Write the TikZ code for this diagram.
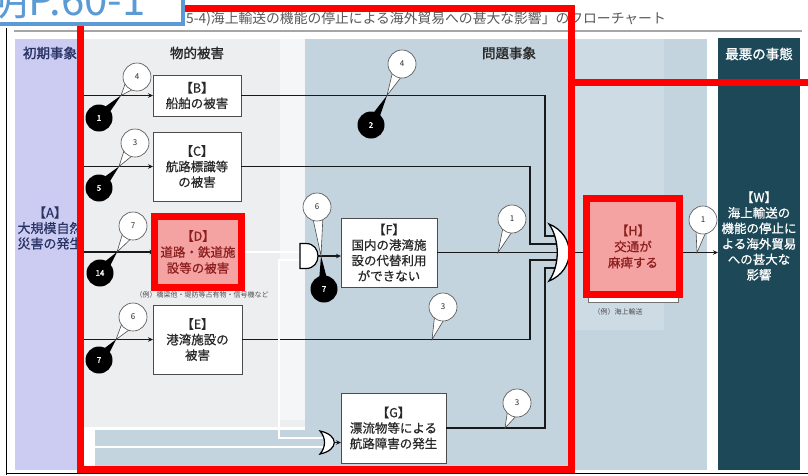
\documentclass[tikz,border=0pt]{standalone}
\usepackage{fontspec}
\setmainfont{Noto Sans CJK JP}
\newfontfamily\jpb[FakeBold=1.5]{Noto Sans CJK JP}
\newfontfamily\jpm[FakeBold=0.6]{Noto Sans CJK JP}
\usetikzlibrary{arrows.meta,calc}
\definecolor{lav}{RGB}{204,204,242}
\definecolor{lightp}{RGB}{236,238,240}
\definecolor{lightw}{RGB}{245,246,247}
\definecolor{probbg}{RGB}{196,212,223}
\definecolor{probl}{RGB}{205,219,229}
\definecolor{tealc}{RGB}{28,72,88}
\definecolor{hlred}{RGB}{255,0,0}
\definecolor{pinkf}{RGB}{245,162,162}
\definecolor{dred}{RGB}{140,30,30}
\definecolor{navy}{RGB}{40,50,100}
\definecolor{bluebx}{RGB}{91,155,213}
\definecolor{txt}{RGB}{40,40,40}
\newcommand\wcallout[4]{%
  \coordinate (#1c) at #2;
  \draw[wtail] ($(#1c)!13pt!22:#3$) -- #3 -- ($(#1c)!13pt!-22:#3$);
  \node[wbub] (#1) at (#1c) {#4};}
\newcommand\bcallout[4]{%
  \coordinate (#1c) at #2;
  \fill[black] ($(#1c)!10pt!24:#3$) -- #3 -- ($(#1c)!10pt!-24:#3$) -- cycle;
  \node[bbub] (#1) at (#1c) {#4};}
\begin{document}
\begin{tikzpicture}[x=1pt,y=-1pt,line join=miter,
  box/.style={draw=black!70, line width=0.8pt, fill=white, align=center, text=txt,
    font=\jpm\fontsize{12.5}{15.5}\selectfont, inner sep=0pt, outer sep=0pt},
  hlbox/.style={draw=hlred, line width=7pt, fill=pinkf, align=center, text=dred,
    font=\jpm\fontsize{12.5}{16}\selectfont, inner sep=0pt, outer sep=0pt},
  conn/.style={line width=1.3pt, draw=black!90},
  arr/.style={conn, -{Stealth[length=5pt,width=4.5pt]}},
  dconn/.style={draw=black, line width=0.6pt, double=white, double distance=1.6pt},
  wbub/.style={circle, draw=black!70, line width=0.6pt, fill=white, minimum size=28pt,
    inner sep=0pt, font=\fontsize{8}{8}\selectfont, text=txt},
  bbub/.style={circle, fill=black, minimum size=27pt, inner sep=0pt, text=white,
    font=\jpb\fontsize{8}{8}\selectfont},
  wtail/.style={draw=black!70, line width=0.6pt, fill=white},
  hdr/.style={font=\jpb\fontsize{13.5}{14}\selectfont, text=txt, inner sep=0pt},
  note/.style={font=\fontsize{7}{7}\selectfont, text=black!70, inner sep=0pt}]
\useasboundingbox (0,0) rectangle (808,475);
\fill[white] (0,0) rectangle (808,475);
% panels
\fill[lav] (15,39) rectangle (78,470);
\fill[lightp] (84,39) rectangle (305,427);
\fill[lightw] (280,39) rectangle (305,420);
\fill[probbg] (305,39) rectangle (707,470);
\fill[probbg] (95,430) rectangle (305,470);
\fill[probl] (575,39) rectangle (664,330);
\fill[tealc] (718,38) rectangle (800,470);
% frame lines and title
\draw[line width=1.8pt, black!35] (14,31) -- (802,31);
\draw[line width=1pt] (6,28) -- (6,475);
\draw[line width=1pt] (6,473) -- (808,473);
\node[anchor=west, text=black!65, font=\fontsize{13.8}{13.8}\selectfont, inner sep=0pt] (title) at (186,19.5)
  {5-4)海上輸送の機能の停止による海外貿易への甚大な影響」のフローチャート};
% headers
\node[hdr, text=navy] (h1) at (50,53) {初期事象};
\node[hdr] (h2) at (197,53) {物的被害};
\node[hdr] (h3) at (509,53) {問題事象};
\node[hdr, text=white] (h4) at (759,54) {最悪の事態};
% side texts
\node[font=\jpm\fontsize{13}{15.5}\selectfont, text=navy, align=center, minimum width=62pt, inner sep=0pt, outer sep=0pt] (A) at (50,228) {【A】\\大規模自然\\災害の発生};
\node[font=\jpm\fontsize{12.5}{15.5}\selectfont, text=white, align=center, minimum width=82pt, inner sep=0pt, outer sep=0pt] (W) at (759,236) {【W】\\海上輸送の\\機能の停止に\\よる海外貿易\\への甚大な\\影響};
% original H box under highlight
\draw[draw=black!55, line width=0.8pt, fill=white] (588,205) rectangle (678,302);
% boxes
\node[box, minimum width=88pt, minimum height=41pt] (B) at (197,95.5) {【B】\\船舶の被害};
\node[box, minimum width=88pt, minimum height=69pt] (C) at (197,166.5) {【C】\\航路標識等\\の被害};
\node[hlbox, minimum width=87pt, minimum height=71pt] (D) at (198,252) {【D】\\道路・鉄道施\\設等の被害};
\node[box, minimum width=89pt, minimum height=69pt] (E) at (197.5,339.5) {【E】\\港湾施設の\\被害};
\node[box, minimum width=96pt, minimum height=69pt] (F) at (389,252.5) {【F】\\国内の港湾施\\設の代替利用\\ができない};
\node[box, minimum width=105pt, minimum height=70pt] (G) at (393.5,428) {【G】\\漂流物等による\\航路障害の発生};
\node[hlbox, minimum width=93pt, minimum height=96pt] (H) at (633,246.5) {【H】\\交通が\\麻痺する};
% notes
\node[note] (nD) at (202,295) {（例）橋梁他・堤防等占有物・信号機など};
\node[note] (nH) at (618,312) {（例）海上輸送};
% coordinates
\coordinate (kB) at (545,236); \coordinate (gB) at (556,236);
\coordinate (kC) at (530,244); \coordinate (gC) at (557,244);
\coordinate (gF) at (558,252.5);
\coordinate (kE) at (530,260); \coordinate (gE) at (557,260);
\coordinate (kG) at (545,268); \coordinate (gG) at (556,268);
\coordinate (gout) at (569,252.5);
\coordinate (aIn1) at (304,252); \coordinate (aIn2) at (304,260);
\coordinate (kBr) at (279,260);
\coordinate (aOut) at (318,256);
\coordinate (oIn1) at (324,438); \coordinate (oIn2) at (324,447);
\coordinate (oOut) at (334,442.5);
% connectors from A
\draw[arr] (A.east |- B.west) -- (B.west);
\draw[arr] (A.east |- C.west) -- (C.west);
\draw[arr] (A.east |- D.west) -- (D.west);
\draw[arr] (A.east |- E.west) -- (E.west);
\draw[dconn] (A.east |- oIn2) -- (oIn2);
% to the big OR gate
\draw[conn] (B.east) -| (kB) -- (gB);
\draw[conn] (C.east) -| (kC) -- (gC);
\draw[conn] (F.east |- gF) -- (gF);
\draw[conn] (E.east) -| (kE) -- (gE);
\draw[conn] (G.east) -| (kG) -- (gG);
\draw[conn] (gout) -- (gout -| H.west);
\draw[arr] (H.east |- gout) -- (W.west |- gout);
% D branch and gates
\draw[dconn] (D.east) -- (aIn1);
\draw[dconn] (aIn2) -- (kBr) -- (kBr |- oIn1) -- (oIn1);
\draw[arr] (aOut) -- (aOut -| F.west);
\draw[arr] (oOut) -- (oOut -| G.west);
\draw[fill=white, line width=1.2pt] (300,243.5) -- (306,243.5) .. controls (322,243.5) and (322,268.5) .. (306,268.5) -- (300,268.5) -- cycle;
\draw[fill=white, line width=1.2pt] (320,431) .. controls (326,438) and (326,447) .. (320,454) .. controls (339,450) and (339,435) .. (320,431) -- cycle;
\draw[fill=white, line width=1.3pt] (549,224) .. controls (560,240) and (560,265) .. (549,281) .. controls (576,270) and (576,235) .. (549,224) -- cycle;
% callout targets
\coordinate (tB) at (121,95.5);
\coordinate (tC) at (119,166.5);
\coordinate (tD) at (117,252);
\coordinate (tE) at (116,339.5);
\coordinate (tT) at (387,95.5);
\coordinate (tA) at (321,256);
\coordinate (tF) at (498,252.5);
\coordinate (tE2) at (432,339.5);
\coordinate (tG) at (505,428);
\coordinate (tW) at (697,252.5);
% callouts
\wcallout{wB}{(137,77)}{(tB)}{4}
\bcallout{bB}{(99,118)}{(tB)}{1}
\wcallout{wC}{(135,143)}{(tC)}{3}
\bcallout{bC}{(99,188)}{(tC)}{5}
\wcallout{wD}{(133,226)}{(tD)}{7}
\bcallout{bD}{(100,273)}{(tD)}{14}
\wcallout{wE}{(133,317)}{(tE)}{6}
\bcallout{bE}{(99,360)}{(tE)}{7}
\wcallout{wT}{(402,64)}{(tT)}{4}
\bcallout{bT}{(371,125)}{(tT)}{2}
\wcallout{wA}{(317,207)}{(tA)}{6}
\bcallout{bA}{(324,289)}{(tA)}{7}
\wcallout{wF}{(512,219)}{(tF)}{1}
\wcallout{wE2}{(443,307)}{(tE2)}{3}
\wcallout{wG}{(517,403)}{(tG)}{3}
\wcallout{wW}{(703,220)}{(tW)}{1}
% red highlights
\draw[hlred, line width=7pt] (D.north west) rectangle (D.south east);
\draw[hlred, line width=7pt] (H.north west) rectangle (H.south east);
\draw[hlred, line width=7pt] (80.5,8) rectangle (571.5,469);
\draw[hlred, line width=7pt] (575,82) -- (808,82);
% blue reference box
\draw[draw=bluebx, line width=4pt, fill=white] (-10,-10) rectangle (183,24);
\node[anchor=base west, text=bluebx, font=\fontsize{42}{42}\selectfont, inner sep=0pt] (ref) at (-14,15) {明P.60-1};
\end{tikzpicture}
\end{document}
